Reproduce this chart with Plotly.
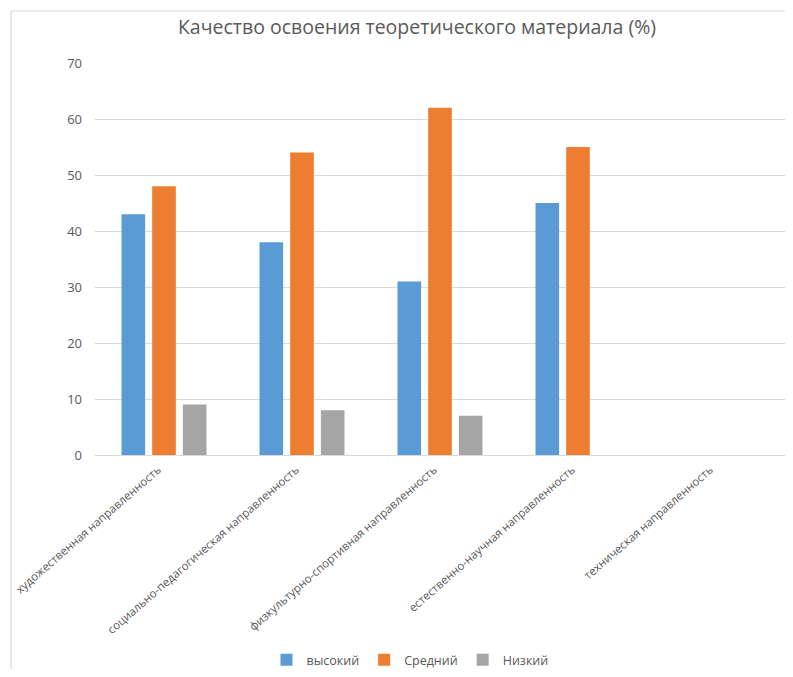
import plotly.graph_objects as go

categories = [
    "художественная направленность",
    "социально-педагогическая направленность",
    "физкультурно-спортивная направленность",
    "естественно-научная направленность",
    "техническая направленность",
]
series_names = ["высокий", "Средний", "Низкий"]
high = [43, 38, 31, 45, None]
mid = [48, 54, 62, 55, None]
low = [9, 8, 7, None, None]
colors = ["#5B9BD5", "#ED7D31", "#A5A5A5"]
y_ticks = [0, 10, 20, 30, 40, 50, 60, 70]

OFF = 8  # page body margin
W, H = 793 - 2 * OFF, 677 - 2 * OFF

PX0, PX1, PY0, PY1 = 95, OFF + W, 63, 455
ML, MR = PX0 - OFF, W - (PX1 - OFF)
MT, MB = PY0 - OFF, H - (PY1 - OFF)

fig = go.Figure()
for name, vals, col in zip(series_names, [high, mid, low], colors):
    fig.add_trace(go.Bar(x=categories, y=vals, name=name, marker_color=col,
                         marker_line_width=0))

pw = W - ML - MR
ph = H - MT - MB
grid = "#D9D9D9"
txt = "#595959"


def px_x(sx):
    return (sx - OFF - ML) / pw


def px_y(sy):
    return (MT + ph - (sy - OFF)) / ph


fig.update_layout(
    width=W, height=H,
    margin=dict(l=ML, r=MR, t=MT, b=MB, pad=0, autoexpand=False),
    paper_bgcolor="white", plot_bgcolor="white",
    font=dict(family="Open Sans", color=txt, size=12),
    title=dict(text="Качество освоения теоретического материала (%)",
               x=px_x(417), xref="paper", xanchor="center",
               y=1 - (27 - OFF) / H, yanchor="middle",
               font=dict(size=19.5, color=txt, family="Open Sans")),
    barmode="group", bargap=0.333, bargroupgap=0.23,
    showlegend=True,
    legend=dict(orientation="h", x=px_x(410), xanchor="center",
                y=px_y(660), yanchor="middle",
                font=dict(size=12.5, color=txt), itemwidth=30,
                traceorder="normal"),
    xaxis=dict(showgrid=False, tickangle=-41, ticks="", automargin=False,
               tickfont=dict(size=11.5, color=txt), showline=False,
               ticklabelstandoff=5, ticklabelshift=-6),
    yaxis=dict(range=[0, 70], tickvals=y_ticks, showgrid=True, gridcolor=grid,
               gridwidth=1, zeroline=True, zerolinecolor=grid, zerolinewidth=1,
               ticks="", tickfont=dict(size=13, color=txt), automargin=False,
               ticklabelstandoff=12),
    shapes=[
        dict(type="line", xref="paper", yref="paper",
             x0=px_x(11), x1=px_x(11), y0=px_y(11), y1=px_y(700),
             line=dict(color=grid, width=1.2)),
        dict(type="line", xref="paper", yref="paper",
             x0=px_x(11), x1=px_x(820), y0=px_y(11), y1=px_y(11),
             line=dict(color=grid, width=1.2)),
    ],
)

fig.write_html("out.html")
